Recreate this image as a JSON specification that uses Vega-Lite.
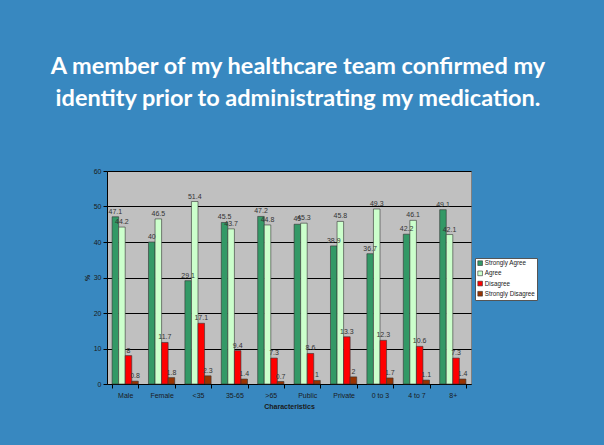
{
  "$schema": "https://vega.github.io/schema/vega-lite/v6.json",
  "width": 364,
  "height": 213,
  "autosize": {"type": "none"},
  "padding": {"left": 107, "top": 171, "right": 133, "bottom": 61},
  "background": "#3888c0",
  "title": {
    "text": ["A member of my healthcare team confirmed my", "identity prior to administrating my medication."],
    "font": "Lato",
    "fontSize": 23.5,
    "fontWeight": "bold",
    "color": "white",
    "anchor": "middle",
    "frame": "group",
    "dx": 9,
    "offset": 57,
    "lineHeight": 32
  },
  "data": {
    "values": [
      {"group": "Male", "response": "Strongly Agree", "value": 47.1},
      {"group": "Male", "response": "Agree", "value": 44.2},
      {"group": "Male", "response": "Disagree", "value": 8},
      {"group": "Male", "response": "Strongly Disagree", "value": 0.8},
      {"group": "Female", "response": "Strongly Agree", "value": 40},
      {"group": "Female", "response": "Agree", "value": 46.5},
      {"group": "Female", "response": "Disagree", "value": 11.7},
      {"group": "Female", "response": "Strongly Disagree", "value": 1.8},
      {"group": "<35", "response": "Strongly Agree", "value": 29.1},
      {"group": "<35", "response": "Agree", "value": 51.4},
      {"group": "<35", "response": "Disagree", "value": 17.1},
      {"group": "<35", "response": "Strongly Disagree", "value": 2.3},
      {"group": "35-65", "response": "Strongly Agree", "value": 45.5},
      {"group": "35-65", "response": "Agree", "value": 43.7},
      {"group": "35-65", "response": "Disagree", "value": 9.4},
      {"group": "35-65", "response": "Strongly Disagree", "value": 1.4},
      {"group": ">65", "response": "Strongly Agree", "value": 47.2},
      {"group": ">65", "response": "Agree", "value": 44.8},
      {"group": ">65", "response": "Disagree", "value": 7.3},
      {"group": ">65", "response": "Strongly Disagree", "value": 0.7},
      {"group": "Public", "response": "Strongly Agree", "value": 45},
      {"group": "Public", "response": "Agree", "value": 45.3},
      {"group": "Public", "response": "Disagree", "value": 8.6},
      {"group": "Public", "response": "Strongly Disagree", "value": 1},
      {"group": "Private", "response": "Strongly Agree", "value": 38.9},
      {"group": "Private", "response": "Agree", "value": 45.8},
      {"group": "Private", "response": "Disagree", "value": 13.3},
      {"group": "Private", "response": "Strongly Disagree", "value": 2},
      {"group": "0 to 3", "response": "Strongly Agree", "value": 36.7},
      {"group": "0 to 3", "response": "Agree", "value": 49.3},
      {"group": "0 to 3", "response": "Disagree", "value": 12.3},
      {"group": "0 to 3", "response": "Strongly Disagree", "value": 1.7},
      {"group": "4 to 7", "response": "Strongly Agree", "value": 42.2},
      {"group": "4 to 7", "response": "Agree", "value": 46.1},
      {"group": "4 to 7", "response": "Disagree", "value": 10.6},
      {"group": "4 to 7", "response": "Strongly Disagree", "value": 1.1},
      {"group": "8+", "response": "Strongly Agree", "value": 49.1},
      {"group": "8+", "response": "Agree", "value": 42.1},
      {"group": "8+", "response": "Disagree", "value": 7.3},
      {"group": "8+", "response": "Strongly Disagree", "value": 1.4}
    ]
  },
  "encoding": {
    "x": {
      "field": "group",
      "type": "nominal",
      "sort": ["Male", "Female", "<35", "35-65", ">65", "Public", "Private", "0 to 3", "4 to 7", "8+"],
      "scale": {"paddingInner": 0.28, "paddingOuter": 0.14},
      "axis": {
        "title": "Characteristics",
        "titleFont": "Liberation Sans",
        "titleFontSize": 7,
        "titleFontWeight": "bold",
        "titleColor": "#1a1a1a",
        "titlePadding": 4,
        "labelAngle": 0,
        "labelFont": "Liberation Sans",
        "labelFontSize": 7,
        "labelColor": "#1a1a1a",
        "labelPadding": 3,
        "tickBand": "extent",
        "tickColor": "black",
        "tickSize": 4,
        "domainColor": "black",
        "grid": false
      }
    },
    "xOffset": {
      "field": "response",
      "type": "nominal",
      "sort": ["Strongly Agree", "Agree", "Disagree", "Strongly Disagree"],
      "scale": {"paddingInner": 0, "paddingOuter": 0}
    },
    "y": {
      "field": "value",
      "type": "quantitative",
      "scale": {"domain": [0, 60]},
      "axis": {
        "title": "%",
        "titleFont": "Liberation Sans",
        "titleFontSize": 7,
        "titleFontWeight": "bold",
        "titleColor": "#1a1a1a",
        "titlePadding": 3,
        "values": [0, 10, 20, 30, 40, 50, 60],
        "labelFont": "Liberation Sans",
        "labelFontSize": 7,
        "labelColor": "#1a1a1a",
        "labelPadding": 2,
        "tickColor": "black",
        "tickSize": 4,
        "domainColor": "black",
        "grid": true,
        "gridColor": "black",
        "gridWidth": 1,
        "gridOpacity": 1
      }
    }
  },
  "layer": [
    {
      "mark": {"type": "bar", "stroke": "#333333", "strokeWidth": 0.6},
      "encoding": {
        "color": {
          "field": "response",
          "type": "nominal",
          "sort": ["Strongly Agree", "Agree", "Disagree", "Strongly Disagree"],
          "scale": {
            "domain": ["Strongly Agree", "Agree", "Disagree", "Strongly Disagree"],
            "range": ["#339966", "#ccffcc", "#ff0000", "#993300"]
          },
          "legend": {
            "title": null,
            "orient": "none",
            "legendX": 368,
            "legendY": 87,
            "fillColor": "white",
            "strokeColor": "#555555",
            "padding": 2,
            "symbolType": "square",
            "symbolSize": 22,
            "symbolStrokeColor": "#333333",
            "symbolStrokeWidth": 0.6,
            "labelFont": "Liberation Sans",
            "labelFontSize": 6.3,
            "labelColor": "#1a1a1a",
            "labelOffset": 1.5,
            "rowPadding": 2.2
          }
        }
      }
    },
    {
      "mark": {"type": "text", "baseline": "bottom", "dy": -2, "font": "Liberation Sans", "fontSize": 7, "fill": "#333333"},
      "encoding": {
        "text": {"field": "value", "type": "quantitative"}
      }
    }
  ],
  "config": {
    "view": {"fill": "#c0c0c0", "stroke": "#808080"}
  }
}
